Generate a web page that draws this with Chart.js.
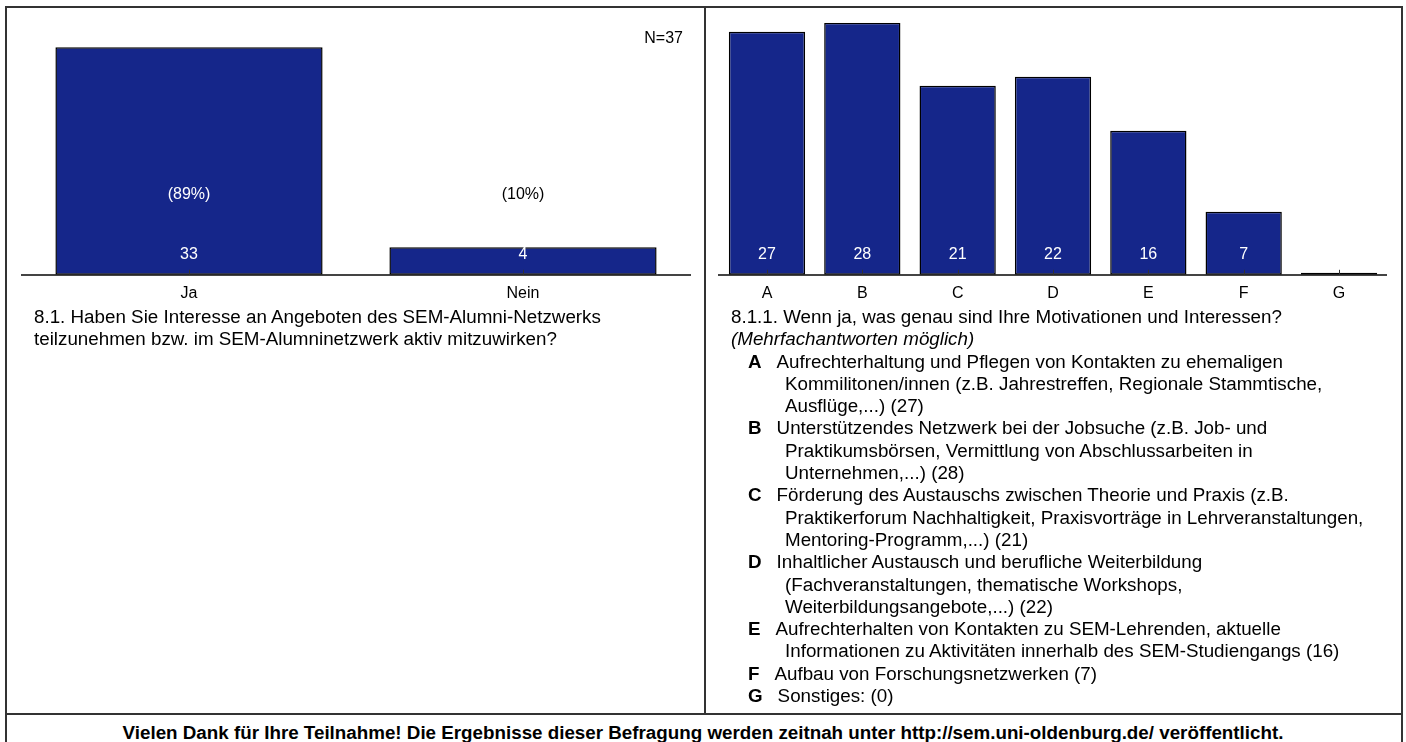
<!DOCTYPE html>
<html>
<head>
<meta charset="utf-8">
<script src="https://cdn.jsdelivr.net/npm/chart.js@4.4.1/dist/chart.umd.min.js"></script>
<style>
  html, body { margin: 0; padding: 0; background: #fff; }
  body { width: 1406px; height: 742px; position: relative; overflow: hidden;
         font-family: "Liberation Sans", Arial, sans-serif; color: #000; }
  .line { position: absolute; background: #333; }
  .box { position: absolute; }
  .txt { position: absolute; font-size: 18.8px; line-height: 22.3px; white-space: nowrap; }
  .item { padding-left: 37px; text-indent: -37px; }
  .item b { margin-right: 15px; }
  #footer { position: absolute; left: 0; width: 1406px; top: 722px; line-height: 22px; text-align: center;
            font-weight: bold; font-size: 18.8px; }
</style>
</head>
<body>
<!-- Rahmen -->
<div class="line" style="left:5px; top:6px; width:1398px; height:2px;"></div>
<div class="line" style="left:5px; top:6px; width:2px; height:740px;"></div>
<div class="line" style="left:1401px; top:6px; width:2px; height:740px;"></div>
<div class="line" style="left:704px; top:6px; width:2px; height:708px;"></div>
<div class="line" style="left:5px; top:713px; width:1398px; height:2px;"></div>

<div class="box" style="left:7px; top:8px; width:697px; height:304px;"><canvas id="leftChart"></canvas></div>
<div class="box" style="left:706px; top:8px; width:695px; height:304px;"><canvas id="rightChart"></canvas></div>

<div class="txt" style="left:34px; top:306px;">
  8.1. Haben Sie Interesse an Angeboten des SEM-Alumni-Netzwerks<br>
  teilzunehmen bzw. im SEM-Alumninetzwerk aktiv mitzuwirken?
</div>

<div class="txt" style="left:731px; top:306px;">
  8.1.1. Wenn ja, was genau sind Ihre Motivationen und Interessen?<br>
  <i>(Mehrfachantworten möglich)</i>
</div>
<div class="txt" id="legendList" style="left:748px; top:350.6px;"></div>

<div id="footer">Vielen Dank für Ihre Teilnahme! Die Ergebnisse dieser Befragung werden zeitnah unter http://sem.uni-oldenburg.de/ veröffentlicht.</div>

<script>
// Daten links
const leftCats = ['Ja', 'Nein'];
const leftCounts = [33, 4];
const leftPercents = ['(89%)', '(10%)'];
const leftTotal = 37;

// Daten rechts
const rightCats = ['A', 'B', 'C', 'D', 'E', 'F', 'G'];
const rightCounts = [27, 28, 21, 22, 16, 7, 0];
const rightTexts = [
    ['Aufrechterhaltung und Pflegen von Kontakten zu ehemaligen', 'Kommilitonen/innen (z.B. Jahrestreffen, Regionale Stammtische,', 'Ausflüge,...)'],
    ['Unterstützendes Netzwerk bei der Jobsuche (z.B. Job- und', 'Praktikumsbörsen, Vermittlung von Abschlussarbeiten in', 'Unternehmen,...)'],
    ['Förderung des Austauschs zwischen Theorie und Praxis (z.B.', 'Praktikerforum Nachhaltigkeit, Praxisvorträge in Lehrveranstaltungen,', 'Mentoring-Programm,...)'],
    ['Inhaltlicher Austausch und berufliche Weiterbildung', '(Fachveranstaltungen, thematische Workshops,', 'Weiterbildungsangebote,...)'],
    ['Aufrechterhalten von Kontakten zu SEM-Lehrenden, aktuelle', 'Informationen zu Aktivitäten innerhalb des SEM-Studiengangs'],
    ['Aufbau von Forschungsnetzwerken'],
    ['Sonstiges:']
];

const barColor = '#15268a';
const fontFamily = '"Liberation Sans", Arial, sans-serif';

// Legende rechts
document.getElementById('legendList').innerHTML = rightCats.map((cat, i) => {
    const lines = rightTexts[i].slice();
    lines[lines.length - 1] += ' (' + rightCounts[i] + ')';
    return `<div class="item"><b>${cat}</b>${lines.join('<br>')}</div>`;
}).join('');

// Beschriftungen in den Balken + kleine Striche an der Achse
const barLabels = {
    id: 'barLabels',
    afterDatasetsDraw(chart, args, opts) {
        const ctx = chart.ctx;
        const meta = chart.getDatasetMeta(0);
        const area = chart.chartArea;
        const x = chart.scales.x;
        const y = chart.scales.y;
        ctx.save();
        // Striche
        ctx.strokeStyle = '#333';
        ctx.lineWidth = 1;
        chart.data.labels.forEach((l, i) => {
            const px = Math.round(x.getPixelForValue(i)) + 0.5;
            ctx.beginPath();
            ctx.moveTo(px, area.bottom - 5);
            ctx.lineTo(px, area.bottom);
            ctx.stroke();
        });
        ctx.font = '16px ' + fontFamily;
        ctx.textAlign = 'center';
        ctx.textBaseline = 'middle';
        meta.data.forEach((bar, i) => {
            const v = chart.data.datasets[0].data[i];
            ctx.fillStyle = '#fff';
            if (v > 0) ctx.fillText(String(v), bar.x, area.bottom - 20);
            if (opts.percents) {
                const py = area.bottom - (area.bottom - area.top) * 0.315;
                ctx.fillStyle = py > y.getPixelForValue(v) ? '#fff' : '#000';
                ctx.fillText(opts.percents[i], bar.x, py);
            }
        });
        if (opts.total) {
            ctx.fillStyle = '#000';
            ctx.textAlign = 'right';
            ctx.fillText('N=' + opts.total, area.right - 7, area.top + 18.5);
        }
        ctx.restore();
    }
};

function makeChart(id, labels, data, yMax, padding, extra) {
    return new Chart(document.getElementById(id), {
        type: 'bar',
        data: {
            labels: labels,
            datasets: [{
                data: data,
                backgroundColor: barColor,
                borderColor: '#000',
                borderWidth: 1.5,
                borderSkipped: false,
                categoryPercentage: 1,
                barPercentage: 0.8,
                minBarLength: 2
            }]
        },
        options: {
            responsive: true,
            maintainAspectRatio: false,
            animation: false,
            layout: { padding: padding },
            plugins: {
                legend: { display: false },
                tooltip: { enabled: false },
                barLabels: extra
            },
            scales: {
                x: {
                    grid: { display: false, drawTicks: false },
                    border: { display: true, color: '#444', width: 2 },
                    ticks: { color: '#000', font: { size: 16, family: fontFamily }, padding: 9 }
                },
                y: { display: false, min: 0, max: yMax }
            }
        },
        plugins: [barLabels]
    });
}

makeChart('leftChart', leftCats, leftCounts, leftTotal,
    { left: 15, right: 14, top: 11.6, bottom: 0 },
    { percents: leftPercents, total: leftTotal });

makeChart('rightChart', rightCats, rightCounts, 28,
    { left: 13.3, right: 14.3, top: 14.7, bottom: 0 },
    {});
</script>
</body>
</html>
